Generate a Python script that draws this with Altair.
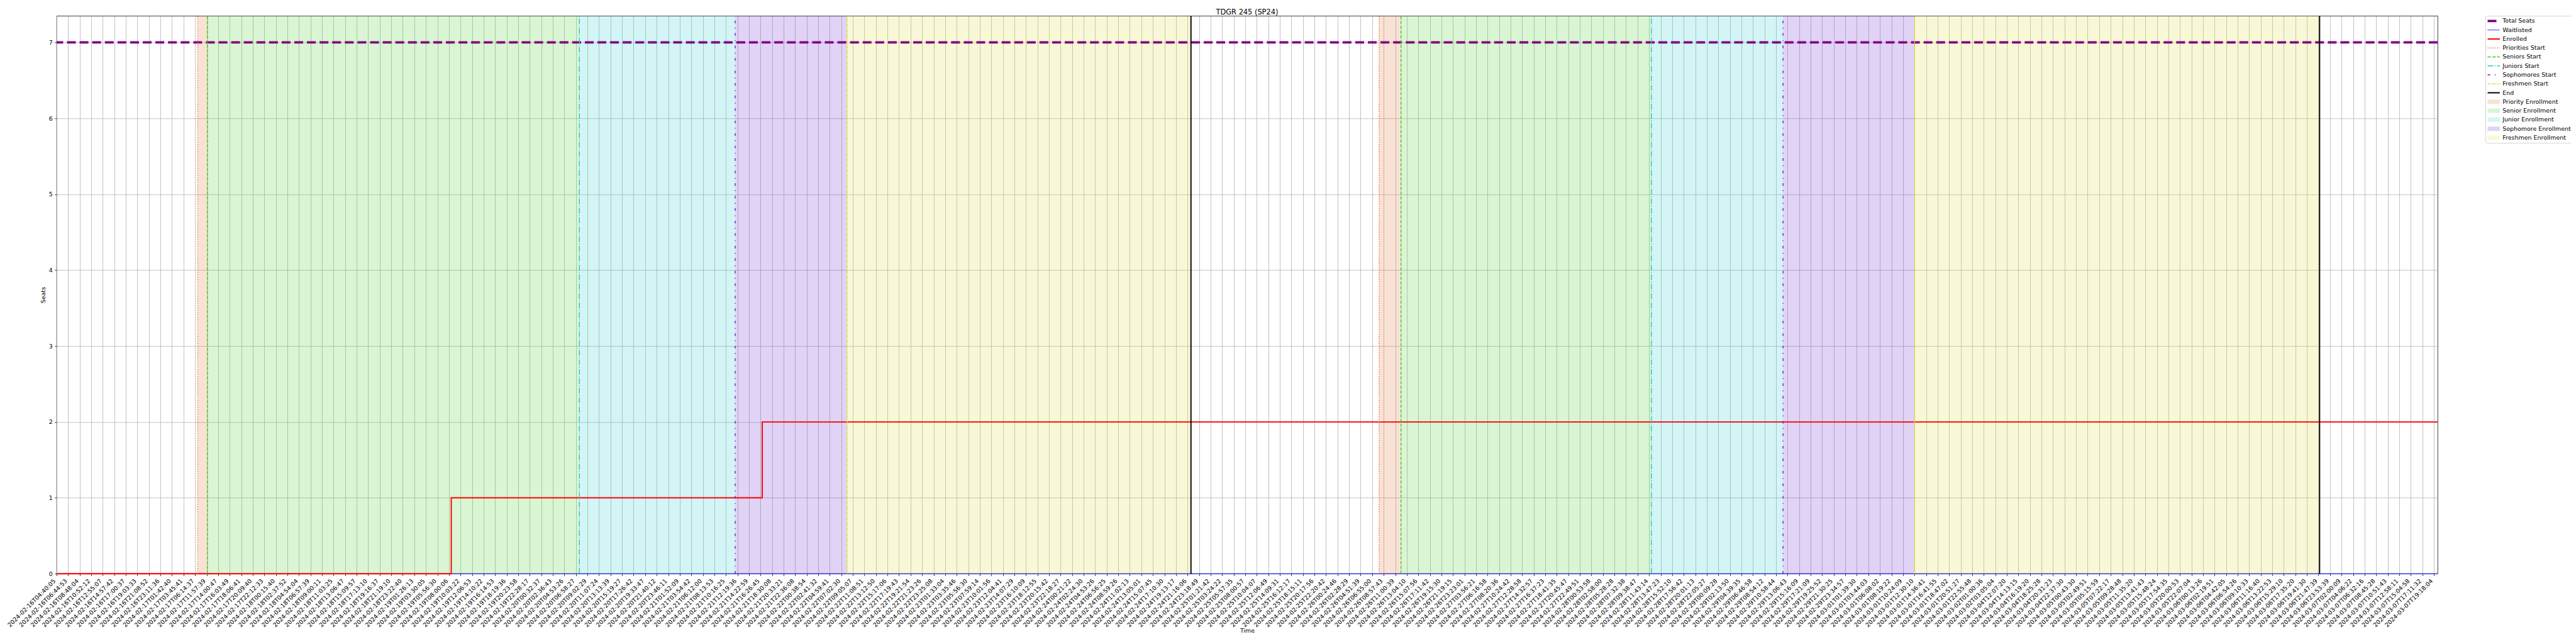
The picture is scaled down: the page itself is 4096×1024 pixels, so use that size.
import json
import altair as alt
import pandas as pd

# ---------------- data ----------------
tick_labels = [
    "2024-02-16T04:40:05", "2024-02-16T06:44:53", "2024-02-16T08:48:04", "2024-02-16T10:52:12",
    "2024-02-16T12:55:07", "2024-02-16T14:57:42", "2024-02-16T17:00:37", "2024-02-16T19:03:33",
    "2024-02-16T21:08:52", "2024-02-16T23:11:36", "2024-02-17T01:42:40", "2024-02-17T03:45:41",
    "2024-02-17T06:14:37", "2024-02-17T11:57:39", "2024-02-17T14:00:47", "2024-02-17T16:03:49",
    "2024-02-17T18:06:41", "2024-02-17T20:09:40", "2024-02-17T22:12:33", "2024-02-18T00:15:40",
    "2024-02-18T02:37:52", "2024-02-18T04:54:04", "2024-02-18T06:57:39", "2024-02-18T09:00:11",
    "2024-02-18T11:03:25", "2024-02-18T13:06:47", "2024-02-18T15:09:57", "2024-02-18T17:13:10",
    "2024-02-18T19:16:37", "2024-02-18T21:19:10", "2024-02-18T23:22:40", "2024-02-19T01:26:13",
    "2024-02-19T03:30:05", "2024-02-19T05:56:30", "2024-02-19T08:00:06", "2024-02-19T10:03:22",
    "2024-02-19T12:06:53", "2024-02-19T14:10:22", "2024-02-19T16:14:53", "2024-02-19T18:19:36",
    "2024-02-19T20:23:58", "2024-02-19T22:28:17", "2024-02-20T00:32:37", "2024-02-20T02:36:43",
    "2024-02-20T04:53:26", "2024-02-20T06:58:27", "2024-02-20T09:02:29", "2024-02-20T11:07:24",
    "2024-02-20T13:13:39", "2024-02-20T15:19:27", "2024-02-20T17:26:42", "2024-02-20T19:33:47",
    "2024-02-20T21:40:12", "2024-02-20T23:46:11", "2024-02-21T01:52:09", "2024-02-21T03:54:42",
    "2024-02-21T06:12:00", "2024-02-21T08:13:53", "2024-02-21T10:16:25", "2024-02-21T12:19:36",
    "2024-02-21T14:22:59", "2024-02-21T16:26:45", "2024-02-21T18:30:08", "2024-02-21T20:33:21",
    "2024-02-21T22:36:08", "2024-02-22T00:38:54", "2024-02-22T02:41:32", "2024-02-22T04:59:41",
    "2024-02-22T07:02:30", "2024-02-22T09:05:07", "2024-02-22T11:08:51", "2024-02-22T13:12:50",
    "2024-02-22T15:17:06", "2024-02-22T17:19:43", "2024-02-22T19:21:54", "2024-02-22T21:23:26",
    "2024-02-22T23:25:08", "2024-02-23T01:33:04", "2024-02-23T03:35:46", "2024-02-23T05:56:30",
    "2024-02-23T07:59:14", "2024-02-23T10:01:56", "2024-02-23T12:04:41", "2024-02-23T14:07:29",
    "2024-02-23T16:10:09", "2024-02-23T18:12:55", "2024-02-23T20:15:42", "2024-02-23T22:18:27",
    "2024-02-24T00:21:22", "2024-02-24T02:24:30", "2024-02-24T04:53:26", "2024-02-24T06:56:25",
    "2024-02-24T08:59:26", "2024-02-24T11:02:13", "2024-02-24T13:05:01", "2024-02-24T15:07:45",
    "2024-02-24T17:10:30", "2024-02-24T19:13:17", "2024-02-24T21:16:06", "2024-02-24T23:18:49",
    "2024-02-25T01:21:42", "2024-02-25T03:24:22", "2024-02-25T05:57:35", "2024-02-25T08:00:57",
    "2024-02-25T10:04:07", "2024-02-25T12:06:49", "2024-02-25T14:09:31", "2024-02-25T16:12:17",
    "2024-02-25T18:15:11", "2024-02-25T20:17:56", "2024-02-25T22:20:42", "2024-02-26T00:24:46",
    "2024-02-26T02:28:29", "2024-02-26T04:51:39", "2024-02-26T06:55:00", "2024-02-26T08:57:43",
    "2024-02-26T11:00:39", "2024-02-26T13:04:10", "2024-02-26T15:07:56", "2024-02-26T17:11:42",
    "2024-02-26T19:15:30", "2024-02-26T21:19:15", "2024-02-26T23:23:01", "2024-02-27T03:56:21",
    "2024-02-27T06:16:58", "2024-02-27T08:20:36", "2024-02-27T10:24:42", "2024-02-27T12:28:58",
    "2024-02-27T14:32:57", "2024-02-27T16:37:23", "2024-02-27T18:41:35", "2024-02-27T20:45:47",
    "2024-02-27T22:49:51", "2024-02-28T00:53:58", "2024-02-28T02:58:00", "2024-02-28T05:28:28",
    "2024-02-28T07:32:38", "2024-02-28T09:38:47", "2024-02-28T11:43:14", "2024-02-28T13:47:23",
    "2024-02-28T15:52:10", "2024-02-28T17:56:42", "2024-02-28T20:01:13", "2024-02-28T22:05:27",
    "2024-02-29T00:09:28", "2024-02-29T02:13:50", "2024-02-29T04:39:35", "2024-02-29T06:46:58",
    "2024-02-29T08:54:12", "2024-02-29T10:58:44", "2024-02-29T13:06:43", "2024-02-29T15:16:09",
    "2024-02-29T17:21:09", "2024-02-29T19:25:52", "2024-02-29T21:30:25", "2024-02-29T23:34:57",
    "2024-03-01T01:39:30", "2024-03-01T03:44:03", "2024-03-01T06:08:02", "2024-03-01T08:19:22",
    "2024-03-01T10:24:09", "2024-03-01T12:30:10", "2024-03-01T14:36:41", "2024-03-01T16:41:55",
    "2024-03-01T18:47:02", "2024-03-01T20:51:27", "2024-03-01T22:55:48", "2024-03-02T01:00:36",
    "2024-03-02T03:05:04", "2024-03-04T12:07:20", "2024-03-04T14:13:15", "2024-03-04T16:19:20",
    "2024-03-04T18:25:28", "2024-03-04T20:31:23", "2024-03-04T22:37:30", "2024-03-05T00:43:30",
    "2024-03-05T02:49:51", "2024-03-05T05:15:59", "2024-03-05T07:22:17", "2024-03-05T09:28:48",
    "2024-03-05T11:35:20", "2024-03-05T13:41:43", "2024-03-05T15:48:24", "2024-03-05T17:54:35",
    "2024-03-05T20:00:53", "2024-03-05T22:07:04", "2024-03-06T00:13:26", "2024-03-06T02:19:51",
    "2024-03-06T04:42:05", "2024-03-06T06:54:26", "2024-03-06T09:10:33", "2024-03-06T11:16:40",
    "2024-03-06T13:22:53", "2024-03-06T15:29:10", "2024-03-06T17:35:20", "2024-03-06T19:41:30",
    "2024-03-06T21:47:39", "2024-03-06T23:53:39", "2024-03-07T02:00:09", "2024-03-07T04:06:22",
    "2024-03-07T06:32:16", "2024-03-07T08:45:28", "2024-03-07T10:51:43", "2024-03-07T12:58:11",
    "2024-03-07T15:04:58", "2024-03-07T17:11:32", "2024-03-07T19:18:04",
]
x_end = 206.33          # last sample position (in tick-index units)
y_top = 7.35
total_seats = 7

# step series: positions (tick-index units) where the value changes
enrolled_idx = [0, 34.2, 61.15, x_end]
enrolled_val = [0, 1, 2, 2]
waitlisted_idx = [0, x_end]
waitlisted_val = [0, 0]

event_names = ["Priorities Start", "Seniors Start", "Juniors Start",
               "Sophomores Start", "Freshmen Start", "End"]
cycle1_idx = [12.23, 13.08, 45.3, 58.8, 68.5, 98.3]
cycle2_idx = [114.6, 116.5, 138.2, 149.6, 161.0, 196.1]

span_names = ["Priority Enrollment", "Senior Enrollment", "Junior Enrollment",
              "Sophomore Enrollment", "Freshmen Enrollment"]

series_names = ["Total Seats", "Waitlisted", "Enrolled"] + event_names + span_names

# ---------------- styles ----------------
S = 0.682
FONT = "DejaVu Sans"
FS = 13.9 * S
line_colors = ["#800080", "#0000ff", "#ff0000",
               "#e2702c", "#44cc22", "#22cccc", "#6a22cc", "#dddd33", "#000000"]
span_colors = ["#e2702c", "#44cc22", "#22cccc", "#6a22cc", "#dddd33"]
SPAN_ALPHA = 0.2


def blend(hexc, a):
    r, g, b = (int(hexc[i:i + 2], 16) for i in (1, 3, 5))
    return "#%02x%02x%02x" % tuple(round(255 - a * (255 - c)) for c in (r, g, b))


stroke_range = line_colors + [blend(c, SPAN_ALPHA) for c in span_colors]
lw = 1.389 * S  # one matplotlib point
width_range = [4 * lw, 1 * lw, 2 * lw, 1.5 * lw, 1.5 * lw, 1.5 * lw, 1.5 * lw, 1.5 * lw, 2 * lw] + [7.0] * 5
p15 = 1.5 * lw
dash_range = [
    [3.7 * 4 * lw, 1.6 * 4 * lw],          # Total Seats '--' lw 4
    [1, 0], [1, 0],
    [1 * p15, 1.65 * p15],                  # ':'
    [3.7 * p15, 1.6 * p15],                 # '--'
    [6.4 * p15, 1.6 * p15, 1 * p15, 1.6 * p15],   # '-.'
    [3 * p15, 5 * p15, 1 * p15, 5 * p15],         # dashdotted
    [3 * p15, 1 * p15, 1 * p15, 1 * p15],         # densely dashdotted
    [1, 0],
] + [[1, 0]] * 5

W = 3786
H = 887
LEFT = 90
TOP = 25.2

legend = alt.Legend(
    title=None, orient="none", legendX=3952 - LEFT, legendY=0,
    symbolType="stroke", symbolSize=(28.5 * S) ** 2, clipHeight=11, rowPadding=3.27,
    padding=2.7, symbolOffset=-3, labelOffset=0.5,
    labelFont=FONT, labelFontSize=FS, labelColor="black", labelLimit=400,
    strokeColor="#d6d6d6", fillColor="white", cornerRadius=2,
)

stroke_enc = alt.Stroke("series:N", scale=alt.Scale(domain=series_names, range=stroke_range), legend=legend)
dash_enc = alt.StrokeDash("series:N", scale=alt.Scale(domain=series_names, range=dash_range), legend=legend)
width_enc = alt.StrokeWidth("series:N", scale=alt.Scale(type="ordinal", domain=series_names, range=width_range),
                            legend=legend)

label_expr = json.dumps(tick_labels) + "[datum.value]"

x_axis = alt.Axis(
    values=list(range(len(tick_labels))), labelExpr=label_expr, labelAngle=-45,
    labelAlign="right", labelBaseline="bottom", labelPadding=3.3 + 0.707 * FS,
    labelOverlap=False, labelBound=False, labelFlush=False,
    labelFont=FONT, labelFontSize=FS, labelColor="black",
    tickSize=4.86 * S, tickWidth=0.8 * lw, tickColor="black",
    grid=True, gridColor="#b0b0b0", gridWidth=0.8 * lw, domain=False,
    title="Time", titleFont=FONT, titleFontSize=FS, titleFontWeight="normal", titleColor="black",
    titleY=90, titleBaseline="middle",
)
y_axis = alt.Axis(
    values=list(range(0, 8)), format="d",
    labelFont=FONT, labelFontSize=FS, labelColor="black", labelPadding=3.3,
    tickSize=4.86 * S, tickWidth=0.8 * lw, tickColor="black",
    grid=True, gridColor="#b0b0b0", gridWidth=0.8 * lw, domain=False,
    title="Seats", titleFont=FONT, titleFontSize=FS, titleFontWeight="normal", titleColor="black",
    titleX=-22, titleBaseline="middle",
)

xs = alt.Scale(domain=[0, x_end], nice=False, zero=False)
ys = alt.Scale(domain=[0, y_top], nice=False, zero=False)

# ---------------- tables ----------------
# spans: Priority (Priorities->Seniors), Senior (Seniors->Juniors), Junior (Juniors->Soph),
# Sophomore (Soph->Freshmen), Freshmen (Freshmen->End)
span_rows = []
for idxs in (cycle1_idx, cycle2_idx):
    for i, name in enumerate(span_names):
        span_rows.append({"span": name, "x0": idxs[i], "x1": idxs[i + 1]})
spans_df = pd.DataFrame(span_rows)

total_df = pd.DataFrame({"series": ["Total Seats"], "y": [total_seats]})
wait_df = pd.DataFrame({"series": "Waitlisted", "x": waitlisted_idx, "y": waitlisted_val})
enr_df = pd.DataFrame({"series": "Enrolled", "x": enrolled_idx, "y": enrolled_val})
ev_rows = []
for idxs in (cycle1_idx, cycle2_idx):
    for name, v in zip(event_names, idxs):
        ev_rows.append({"series": name, "x": v})
ev_df = pd.DataFrame(ev_rows)

# ---------------- layers ----------------
spans = alt.Chart(spans_df).mark_rect(opacity=SPAN_ALPHA, strokeWidth=0).encode(
    x=alt.X("x0:Q", scale=xs, axis=x_axis),
    x2="x1:Q",
    fill=alt.Fill("span:N", scale=alt.Scale(domain=span_names, range=span_colors), legend=None),
)

total = alt.Chart(total_df).mark_rule().encode(
    y=alt.Y("y:Q", scale=ys, axis=y_axis),
    stroke=stroke_enc, strokeDash=dash_enc, strokeWidth=width_enc,
)

wait = alt.Chart(wait_df).mark_line(interpolate="step-after").encode(
    x=alt.X("x:Q", scale=xs, axis=x_axis), y=alt.Y("y:Q", scale=ys, axis=y_axis),
    stroke=stroke_enc, strokeDash=dash_enc, strokeWidth=width_enc,
)
enr = alt.Chart(enr_df).mark_line(interpolate="step-after").encode(
    x=alt.X("x:Q", scale=xs, axis=x_axis), y=alt.Y("y:Q", scale=ys, axis=y_axis),
    stroke=stroke_enc, strokeDash=dash_enc, strokeWidth=width_enc,
)
events = alt.Chart(ev_df).mark_rule().encode(
    x=alt.X("x:Q", scale=xs, axis=x_axis),
    y=alt.datum(0), y2=alt.datum(y_top),
    stroke=stroke_enc, strokeDash=dash_enc, strokeWidth=width_enc,
)

chart = alt.layer(spans, total, wait, enr, events).properties(
    width=W, height=H,
    title=alt.TitleParams("TDGR 245 (SP24)", font=FONT, fontSize=16.7 * S, fontWeight="normal",
                          color="black", anchor="middle", baseline="alphabetic", offset=5.7,
                          frame="group", dy=15.5),
    autosize=alt.AutoSizeParams(type="none"),
    padding={"left": LEFT - 8, "top": TOP - 8, "right": 4096 - 8 - LEFT - W, "bottom": 1024 - 8 - TOP - H},
).configure(font=FONT).configure_view(stroke="black", strokeWidth=0.8 * lw)

chart.save("out.html", embed_options={"renderer": "svg", "actions": False})
